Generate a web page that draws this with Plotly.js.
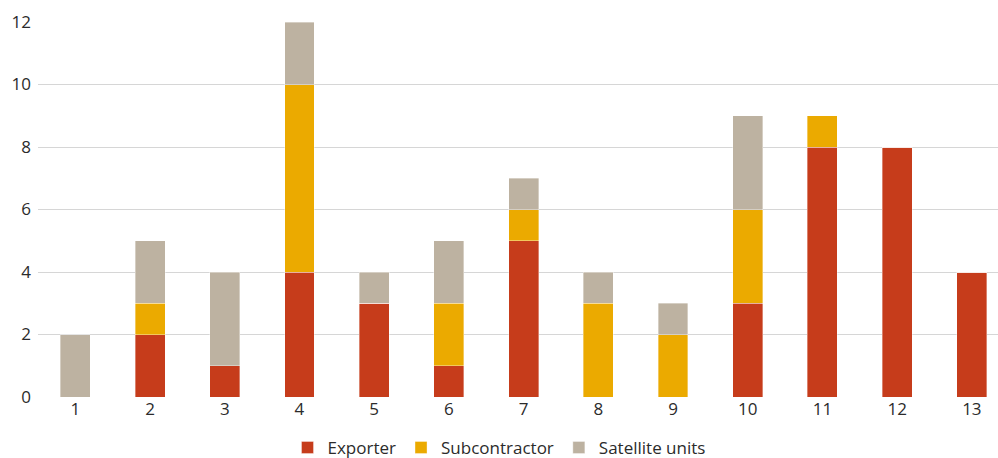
<!DOCTYPE html>
<html>
<head>
<meta charset="utf-8">
<script src="https://cdn.plot.ly/plotly-3.0.1.min.js"></script>
<style>html,body{margin:0;padding:0;background:#fff;}#chart{width:998px;height:458px;}</style>
</head>
<body>
<div id="chart"></div>
<script>
const categories = ['1','2','3','4','5','6','7','8','9','10','11','12','13'];
const exporter      = [0, 2, 1, 4, 3, 1, 5, 0, 0, 3, 8, 8, 4];
const subcontractor = [0, 1, 0, 6, 0, 2, 1, 3, 2, 3, 1, 0, 0];
const satellite     = [2, 2, 3, 2, 1, 2, 1, 1, 1, 3, 0, 0, 0];
const seriesNames = ['Exporter', 'Subcontractor', 'Satellite units'];
const colors = ['#C63C1B', '#EBAA00', '#BDB2A1'];
const xNum = categories.map(c => Number(c));
const data = [exporter, subcontractor, satellite].map((vals, i) => ({
  type: 'bar', name: seriesNames[i], x: xNum, y: vals,
  marker: {color: colors[i], line: {color: 'rgba(255,255,255,0.6)', width: 0.6}},
  hoverinfo: 'skip'
}));
const layout = {
  width: 998, height: 458,
  margin: {l: 38, r: 0, t: 22, b: 61},
  barmode: 'stack', bargap: 0.6,
  paper_bgcolor: '#fff', plot_bgcolor: '#fff',
  font: {family: 'Open Sans, sans-serif', size: 17, color: '#2b2b2b'},
  xaxis: {range: [0.5, 13.35], tickvals: xNum, ticktext: categories, showgrid: false, zeroline: false, showline: false, ticks: '', fixedrange: true, automargin: false},
  yaxis: {range: [0, 12], dtick: 2, showgrid: true, gridcolor: '#d6d6d6', gridwidth: 1, zeroline: false, ticks: '', ticklabelstandoff: 6, fixedrange: true, automargin: false},
  showlegend: true,
  legend: {orientation: 'h', x: 0.5, xanchor: 'center', xref: 'container', yref: 'container', y: 0.022, yanchor: 'middle', traceorder: 'normal', font: {size: 17}, itemwidth: 30}
};
Plotly.newPlot('chart', data, layout, {displayModeBar: false, staticPlot: true});
</script>
</body>
</html>
